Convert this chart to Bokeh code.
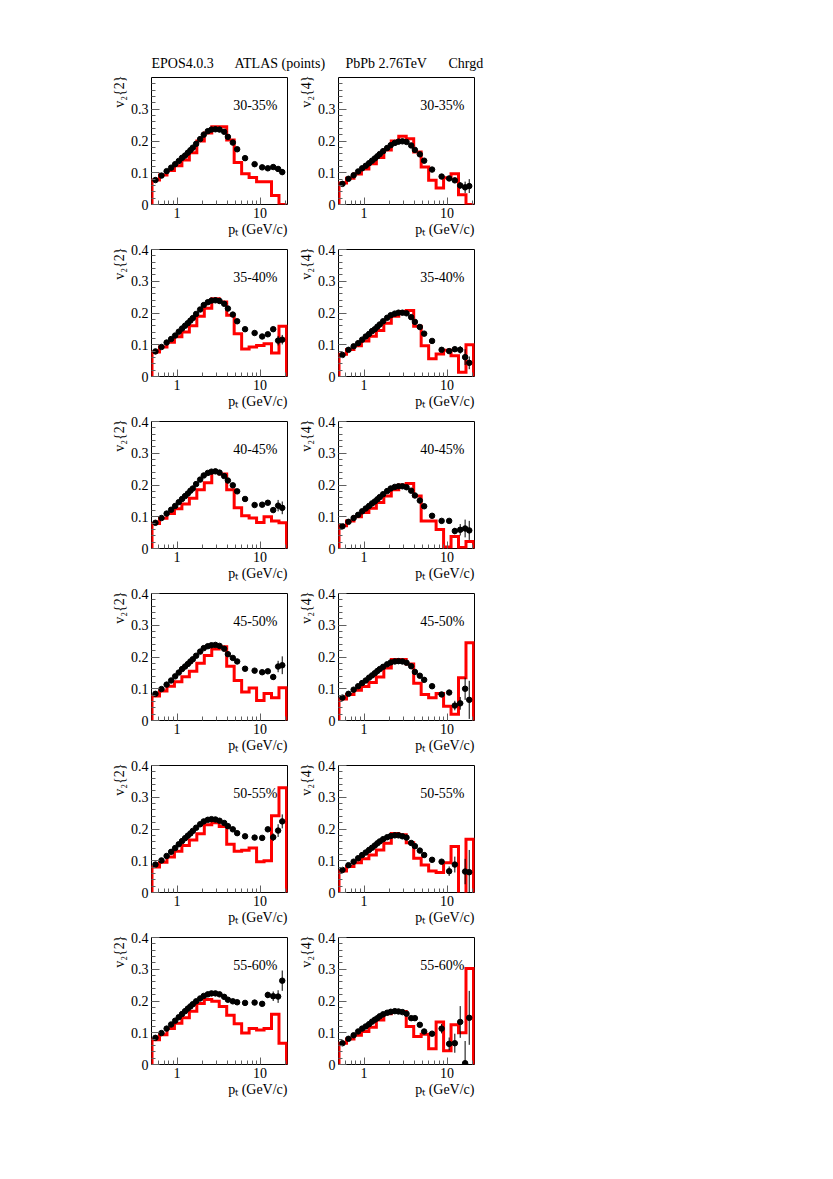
import numpy as np
from bokeh.plotting import figure
from bokeh.models import Range1d, FixedTicker, CustomJSTickFormatter, Label, ColumnDataSource, Title
from bokeh.layouts import column, row
from bokeh.embed import file_html
from bokeh.resources import INLINE

NAN = float("nan")

# ---------------- data ----------------
pt = [0.55, 0.65, 0.75, 0.85, 0.95, 1.05, 1.15, 1.25, 1.35, 1.45, 1.55, 1.7, 1.9, 2.1,
      2.35, 2.6, 2.9, 3.25, 3.7, 4.1, 4.7, 5.3, 6.6, 8.6, 10.6, 12.4, 14.4, 16.5, 18.5]
epos_edges = [0.5, 0.615, 0.757, 0.931, 1.145, 1.408, 1.732, 2.131, 2.621, 3.224,
              3.966, 4.878, 6.001, 7.382, 9.08, 11.17, 13.74, 16.9, 20.8]

x_major_ticks = [1, 10]
x_minor_ticks = [0.6, 0.7, 0.8, 0.9, 2, 3, 4, 5, 6, 7, 8, 9, 20]
y_major_ticks = [0, 0.1, 0.2, 0.3, 0.4]
title_words = ["EPOS4.0.3", "ATLAS (points)", "PbPb 2.76TeV", "Chrgd"]
centralities = ["30-35%", "35-40%", "40-45%", "45-50%", "50-55%", "55-60%"]

# 30-35%
atlas_v22_30 = [0.077, 0.091, 0.105, 0.116, 0.127, 0.137, 0.147, 0.154, 0.163, 0.171, 0.179, 0.191, 0.206, 0.220,
                0.231, 0.236, 0.237, 0.236, 0.229, 0.213, 0.195, 0.174, 0.146, 0.127, 0.117, 0.114, 0.118, 0.112, 0.102]
atlas_v22_30_err = [0.001, 0.001, 0.001, 0.001, 0.001, 0.001, 0.001, 0.001, 0.001, 0.001, 0.001, 0.001, 0.001, 0.001,
                    0.001, 0.001, 0.001, 0.001, 0.001, 0.001, 0.001, 0.002, 0.002, 0.003, 0.004, 0.005, 0.006, 0.008, 0.009]
epos_v22_30 = [0.077, 0.093, 0.107, 0.122, 0.140, 0.163, 0.200, 0.225, 0.245, 0.245, 0.203, 0.132, 0.097, 0.085,
               0.072, 0.072, 0.028, 0.0]
atlas_v24_30 = [0.065, 0.081, 0.092, 0.104, 0.114, 0.122, 0.130, 0.138, 0.145, 0.152, 0.159, 0.168, 0.178, 0.187,
                0.194, 0.198, 0.199, 0.197, 0.186, 0.172, 0.158, 0.138, 0.110, 0.088, 0.082, 0.076, 0.060, 0.054, 0.058]
atlas_v24_30_err = [0.001, 0.001, 0.001, 0.001, 0.001, 0.001, 0.001, 0.001, 0.001, 0.001, 0.001, 0.001, 0.001, 0.001,
                    0.001, 0.001, 0.001, 0.001, 0.002, 0.002, 0.002, 0.003, 0.003, 0.004, 0.005, 0.007, 0.010, 0.018, 0.022]
epos_v24_30 = [0.068, 0.083, 0.096, 0.112, 0.128, 0.148, 0.172, 0.200, 0.215, 0.207, 0.165, 0.118, 0.076, 0.052,
               0.084, 0.097, 0.031, 0.0]

# 35-40%
atlas_v22_35 = [0.079, 0.093, 0.107, 0.118, 0.129, 0.141, 0.151, 0.160, 0.168, 0.176, 0.184, 0.197, 0.211, 0.225,
                0.234, 0.239, 0.240, 0.238, 0.229, 0.214, 0.195, 0.174, 0.149, 0.137, 0.126, 0.133, 0.149, 0.113, 0.116]
atlas_v22_35_err = [0.001, 0.001, 0.001, 0.001, 0.001, 0.001, 0.001, 0.001, 0.001, 0.001, 0.001, 0.001, 0.001, 0.001,
                    0.001, 0.001, 0.001, 0.001, 0.001, 0.001, 0.001, 0.002, 0.002, 0.003, 0.004, 0.005, 0.007, 0.015, 0.015]
epos_v22_35 = [0.077, 0.093, 0.108, 0.125, 0.140, 0.160, 0.190, 0.215, 0.245, 0.235, 0.193, 0.135, 0.087, 0.093,
               0.098, 0.103, 0.074, 0.158]
atlas_v24_35 = [0.068, 0.084, 0.095, 0.105, 0.116, 0.126, 0.134, 0.143, 0.149, 0.157, 0.164, 0.174, 0.185, 0.193,
                0.198, 0.201, 0.201, 0.199, 0.187, 0.172, 0.156, 0.135, 0.112, 0.084, 0.080, 0.086, 0.084, 0.061, 0.043]
atlas_v24_35_err = [0.001, 0.001, 0.001, 0.001, 0.001, 0.001, 0.001, 0.001, 0.001, 0.001, 0.001, 0.001, 0.001, 0.001,
                    0.001, 0.001, 0.001, 0.001, 0.002, 0.002, 0.002, 0.003, 0.003, 0.004, 0.006, 0.008, 0.012, 0.025, 0.020]
epos_v24_35 = [0.070, 0.085, 0.097, 0.112, 0.127, 0.145, 0.168, 0.190, 0.205, 0.208, 0.158, 0.097, 0.056, 0.071,
               0.083, 0.065, 0.013, 0.100]

# 40-45%
atlas_v22_40 = [0.081, 0.096, 0.110, 0.122, 0.134, 0.146, 0.156, 0.165, 0.173, 0.182, 0.189, 0.203, 0.217, 0.230,
                0.238, 0.242, 0.243, 0.239, 0.228, 0.214, 0.199, 0.180, 0.156, 0.137, 0.138, 0.144, 0.121, 0.135, 0.128]
atlas_v22_40_err = [0.001, 0.001, 0.001, 0.001, 0.001, 0.001, 0.001, 0.001, 0.001, 0.001, 0.001, 0.001, 0.001, 0.001,
                    0.001, 0.001, 0.001, 0.001, 0.001, 0.001, 0.001, 0.002, 0.002, 0.003, 0.004, 0.006, 0.008, 0.018, 0.020]
epos_v22_40 = [0.079, 0.095, 0.110, 0.125, 0.140, 0.158, 0.185, 0.207, 0.240, 0.235, 0.185, 0.128, 0.103, 0.096,
               0.082, 0.100, 0.087, 0.081]
atlas_v24_40 = [0.070, 0.084, 0.096, 0.106, 0.117, 0.126, 0.134, 0.142, 0.148, 0.155, 0.162, 0.171, 0.181, 0.189,
                0.194, 0.196, 0.196, 0.193, 0.182, 0.167, 0.151, 0.133, 0.103, 0.087, 0.087, 0.055, 0.059, 0.063, 0.057]
atlas_v24_40_err = [0.001, 0.001, 0.001, 0.001, 0.001, 0.001, 0.001, 0.001, 0.001, 0.001, 0.001, 0.001, 0.001, 0.001,
                    0.001, 0.001, 0.001, 0.002, 0.002, 0.002, 0.002, 0.003, 0.003, 0.004, 0.006, 0.010, 0.018, 0.028, 0.030]
epos_v24_40 = [0.072, 0.087, 0.100, 0.113, 0.127, 0.145, 0.165, 0.185, 0.200, 0.205, 0.165, 0.087, 0.087, 0.060,
               0.005, 0.038, 0.003, 0.022]

# 45-50%
atlas_v22_45 = [0.084, 0.099, 0.113, 0.126, 0.139, 0.151, 0.162, 0.170, 0.178, 0.186, 0.193, 0.204, 0.217, 0.228,
                0.234, 0.237, 0.238, 0.235, 0.226, 0.209, 0.197, 0.186, 0.163, 0.157, 0.152, 0.155, 0.137, 0.170, 0.174]
atlas_v22_45_err = [0.001, 0.001, 0.001, 0.001, 0.001, 0.001, 0.001, 0.001, 0.001, 0.001, 0.001, 0.001, 0.001, 0.001,
                    0.001, 0.001, 0.001, 0.001, 0.001, 0.001, 0.001, 0.002, 0.002, 0.003, 0.004, 0.006, 0.008, 0.018, 0.028]
epos_v22_45 = [0.077, 0.093, 0.108, 0.122, 0.138, 0.155, 0.180, 0.205, 0.225, 0.232, 0.171, 0.126, 0.090, 0.102,
               0.063, 0.085, 0.072, 0.103]
atlas_v24_45 = [0.072, 0.084, 0.097, 0.108, 0.118, 0.126, 0.135, 0.142, 0.149, 0.156, 0.162, 0.169, 0.177, 0.183,
                0.186, 0.187, 0.186, 0.182, 0.171, 0.153, 0.141, 0.128, 0.108, 0.082, 0.088, 0.047, 0.054, 0.100, 0.065]
atlas_v24_45_err = [0.001, 0.001, 0.001, 0.001, 0.001, 0.001, 0.001, 0.001, 0.001, 0.001, 0.001, 0.001, 0.001, 0.001,
                    0.001, 0.001, 0.001, 0.002, 0.002, 0.002, 0.002, 0.003, 0.003, 0.005, 0.007, 0.015, 0.020, 0.035, 0.060]
epos_v24_45 = [0.068, 0.082, 0.095, 0.107, 0.120, 0.137, 0.165, 0.192, 0.192, 0.178, 0.117, 0.082, 0.072, 0.085,
               0.045, 0.020, 0.135, 0.245]

# 50-55%
atlas_v22_50 = [0.088, 0.101, 0.115, 0.128, 0.140, 0.152, 0.162, 0.171, 0.179, 0.186, 0.194, 0.204, 0.215, 0.224,
                0.229, 0.231, 0.230, 0.226, 0.219, 0.209, 0.199, 0.187, 0.177, 0.173, 0.172, 0.199, 0.174, 0.195, 0.224]
atlas_v22_50_err = [0.001, 0.001, 0.001, 0.001, 0.001, 0.001, 0.001, 0.001, 0.001, 0.001, 0.001, 0.001, 0.001, 0.001,
                    0.001, 0.001, 0.001, 0.001, 0.001, 0.001, 0.002, 0.002, 0.002, 0.003, 0.005, 0.007, 0.012, 0.020, 0.022]
epos_v22_50 = [0.080, 0.095, 0.112, 0.130, 0.148, 0.165, 0.185, 0.213, 0.220, 0.208, 0.152, 0.130, 0.133, 0.140,
               0.097, 0.100, 0.242, 0.330]
atlas_v24_50 = [0.071, 0.086, 0.097, 0.108, 0.118, 0.126, 0.134, 0.141, 0.148, 0.155, 0.161, 0.168, 0.174, 0.178,
                0.180, 0.180, 0.177, 0.173, 0.156, 0.146, 0.132, 0.118, 0.103, 0.097, 0.067, 0.088, NAN, 0.066, 0.064]
atlas_v24_50_err = [0.001, 0.001, 0.001, 0.001, 0.001, 0.001, 0.001, 0.001, 0.001, 0.001, 0.001, 0.001, 0.001, 0.001,
                    0.001, 0.001, 0.002, 0.002, 0.002, 0.002, 0.003, 0.003, 0.004, 0.006, 0.015, 0.025, NAN, 0.040, 0.070]
epos_v24_50 = [0.068, 0.082, 0.094, 0.106, 0.118, 0.134, 0.155, 0.186, 0.182, 0.157, 0.108, 0.087, 0.068, 0.063,
               0.094, 0.145, -0.050, 0.168]

# 55-60%
atlas_v22_55 = [0.084, 0.099, 0.113, 0.126, 0.138, 0.149, 0.159, 0.168, 0.176, 0.183, 0.190, 0.199, 0.208, 0.216,
                0.221, 0.224, 0.224, 0.221, 0.213, 0.204, 0.199, 0.196, 0.194, 0.195, 0.191, 0.219, 0.215, 0.214, 0.264]
atlas_v22_55_err = [0.001, 0.001, 0.001, 0.001, 0.001, 0.001, 0.001, 0.001, 0.001, 0.001, 0.001, 0.001, 0.001, 0.001,
                    0.001, 0.001, 0.001, 0.001, 0.001, 0.002, 0.002, 0.002, 0.003, 0.004, 0.006, 0.010, 0.015, 0.020, 0.032]
epos_v22_55 = [0.078, 0.094, 0.113, 0.130, 0.147, 0.168, 0.192, 0.205, 0.199, 0.183, 0.155, 0.128, 0.099, 0.113,
               0.109, 0.113, 0.158, 0.067]
atlas_v24_55 = [0.067, 0.081, 0.092, 0.104, 0.113, 0.120, 0.127, 0.135, 0.141, 0.146, 0.152, 0.158, 0.163, 0.166,
                0.168, 0.167, 0.165, 0.160, 0.146, 0.146, 0.125, 0.104, 0.097, 0.113, 0.065, 0.067, 0.134, 0.004, 0.147]
atlas_v24_55_err = [0.001, 0.001, 0.001, 0.001, 0.001, 0.001, 0.001, 0.001, 0.001, 0.001, 0.001, 0.001, 0.002, 0.002,
                    0.002, 0.002, 0.002, 0.002, 0.003, 0.003, 0.003, 0.004, 0.005, 0.015, 0.020, 0.030, 0.050, 0.070, 0.085]
epos_v24_55 = [0.067, 0.080, 0.092, 0.104, 0.117, 0.140, 0.160, 0.167, 0.167, 0.120, 0.088, 0.095, 0.050, 0.134,
               0.043, 0.125, 0.100, 0.302]

panels = [
    (atlas_v22_30, atlas_v22_30_err, epos_v22_30, atlas_v24_30, atlas_v24_30_err, epos_v24_30),
    (atlas_v22_35, atlas_v22_35_err, epos_v22_35, atlas_v24_35, atlas_v24_35_err, epos_v24_35),
    (atlas_v22_40, atlas_v22_40_err, epos_v22_40, atlas_v24_40, atlas_v24_40_err, epos_v24_40),
    (atlas_v22_45, atlas_v22_45_err, epos_v22_45, atlas_v24_45, atlas_v24_45_err, epos_v24_45),
    (atlas_v22_50, atlas_v22_50_err, epos_v22_50, atlas_v24_50, atlas_v24_50_err, epos_v24_50),
    (atlas_v22_55, atlas_v22_55_err, epos_v22_55, atlas_v24_55, atlas_v24_55_err, epos_v24_55),
]

# ---------------- style ----------------
FONT = "Liberation Serif"
FS = "14px"
X0, X1 = 0.493, 21.4
Y0, Y1 = 0.0, 0.4
FW, FH = 136, 127
TICK = "#606060"


def make_panel(ylab, cent, vals, errs, hist, first_row, left):
    bl = 151 if left else 48
    br = 3 if left else 10
    bt = 4 if first_row else 7
    bb = 38
    p = figure(width=bl + FW + br, height=bt + FH + bb, x_axis_type="log",
               x_range=Range1d(X0, X1), y_range=Range1d(Y0, Y1),
               output_backend="svg", toolbar_location=None,
               min_border_left=bl, min_border_right=br,
               min_border_top=bt, min_border_bottom=bb)
    p.xgrid.visible = False
    p.ygrid.visible = False
    p.outline_line_color = "black"
    p.outline_line_width = 1
    p.background_fill_color = "white"
    p.border_fill_color = "white"

    e = np.array(epos_edges, dtype=float)
    h = np.array(hist, dtype=float)
    hx = np.repeat(e, 2)
    hy = np.concatenate([[0.0], np.repeat(h, 2), [0.0]])
    p.line(hx, hy, line_color="#ff0000", line_width=3, line_join="miter")

    x = np.array(pt, dtype=float)
    v = np.array(vals, dtype=float)
    s = np.array(errs, dtype=float)
    m = np.isfinite(v)
    src = ColumnDataSource(dict(x=x[m], y=v[m], lo=(v - s)[m], hi=(v + s)[m]))
    p.segment(x0="x", y0="lo", x1="x", y1="hi", source=src, line_color="black", line_width=1)
    p.scatter("x", "y", source=src, size=5.5, marker="circle",
              fill_color="black", line_color="black")

    xa = p.xaxis[0]
    ya = p.yaxis[0]
    xa.ticker = FixedTicker(ticks=x_major_ticks, minor_ticks=x_minor_ticks)
    yt = y_major_ticks[:-1] if first_row else y_major_ticks
    yminor = [round(0.02 * k, 3) for k in range(1, 20)]
    ya.ticker = FixedTicker(ticks=yt, minor_ticks=yminor)
    for ax in (xa, ya):
        ax.formatter = CustomJSTickFormatter(code="return String(tick);")
        ax.axis_line_color = None
        ax.major_tick_line_color = TICK
        ax.minor_tick_line_color = TICK
        ax.major_tick_out = 0
        ax.minor_tick_out = 0
        ax.major_label_text_font = FONT
        ax.major_label_text_font_size = FS
        ax.major_label_text_color = "black"
        ax.major_label_standoff = 3
    xa.major_tick_in = 7
    xa.minor_tick_in = 4
    ya.major_tick_in = 8
    ya.minor_tick_in = 4

    p.add_layout(Label(x=X1, y=Y1, x_offset=-10, y_offset=-28, text=cent,
                       text_align="right", text_baseline="alphabetic",
                       text_font=FONT, text_font_size=FS, text_color="black"))
    p.add_layout(Title(text="p\u209c (GeV/c)", align="right", vertical_align="middle",
                       offset=0, standoff=0, text_font=FONT, text_font_size=FS,
                       text_font_style="normal", text_color="black"), "below")
    p.add_layout(Title(text=ylab, align="right", vertical_align="middle",
                       offset=-2, standoff=0, text_font=FONT, text_font_size=FS,
                       text_font_style="normal", text_color="black"), "left")
    return p


# title strip
tf = figure(width=825, height=73, x_range=Range1d(0, 825), y_range=Range1d(0, 73),
            output_backend="svg", toolbar_location=None,
            x_axis_location=None, y_axis_location=None,
            min_border_left=0, min_border_right=0, min_border_top=0, min_border_bottom=0)
tf.grid.visible = False
tf.outline_line_color = None
title_x = [151, 234, 345, 448]
for w, xx in zip(title_words, title_x):
    tf.add_layout(Label(x=xx, y=10, text=w, text_align="left", text_baseline="alphabetic",
                        text_font=FONT, text_font_size=FS, text_color="black"))

rows = []
for i, (cent, pn) in enumerate(zip(centralities, panels)):
    v22, e22, h22, v24, e24, h24 = pn
    pl = make_panel("v\u2082{2}", cent, v22, e22, h22, i == 0, True)
    pr = make_panel("v\u2082{4}", cent, v24, e24, h24, i == 0, False)
    rows.append(row(pl, pr))

layout = column(tf, *rows)
open("out.html", "w").write(file_html(layout, INLINE))
